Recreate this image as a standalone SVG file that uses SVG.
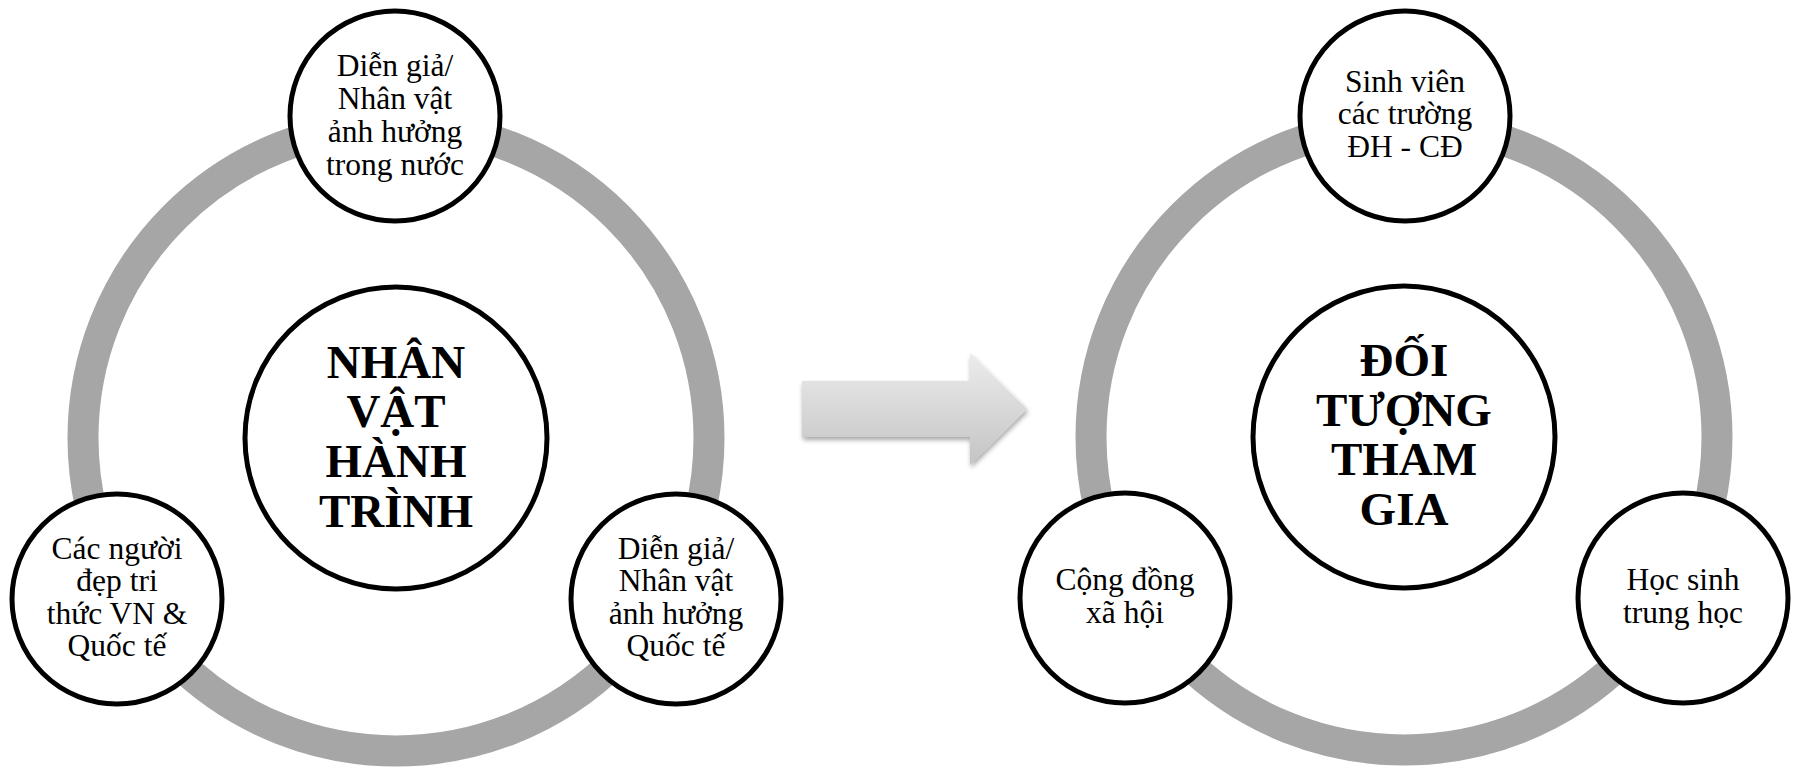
<svg xmlns="http://www.w3.org/2000/svg" width="1796" height="768" viewBox="0 0 1796 768">
<defs>
<style>
.ring{fill:none;stroke:#a6a6a6;stroke-width:31}
.big{fill:#fff;stroke:#000;stroke-width:5}
.small{fill:#fff;stroke:#000;stroke-width:5}
.t{font-family:"Liberation Serif","Times New Roman",serif;font-size:31.5px;fill:#000;text-anchor:middle}
.b{font-family:"Liberation Serif","Times New Roman",serif;font-size:47px;font-weight:bold;fill:#000;text-anchor:middle}
</style>
<linearGradient id="ag" x1="0" y1="0" x2="0" y2="1">
<stop offset="0" stop-color="#ececec"/>
<stop offset="1" stop-color="#c4c4c4"/>
</linearGradient>
<filter id="sh" x="-10%" y="-20%" width="130%" height="150%">
<feGaussianBlur in="SourceAlpha" stdDeviation="2.5"/>
<feOffset dx="1" dy="3" result="o"/>
<feComponentTransfer><feFuncA type="linear" slope="0.35"/></feComponentTransfer>
<feMerge><feMergeNode/><feMergeNode in="SourceGraphic"/></feMerge>
</filter>
</defs>
<rect width="1796" height="768" fill="#fff"/>

<g id="left-ring"><circle class="ring" cx="396" cy="438" r="313"/></g>
<g id="right-ring"><circle class="ring" cx="1404" cy="437" r="313"/></g>

<g id="connectors">
<path d="M802 381 H970 V353 L1027 409 L970 465 V437 H802 Z" fill="url(#ag)" filter="url(#sh)"/>
</g>

<g id="node-nhan-vat">
<circle class="big" cx="396" cy="438" r="151"/>
<text class="b" x="396" y="378">NHÂN</text>
<text class="b" x="396" y="427">VẬT</text>
<text class="b" x="396" y="477">HÀNH</text>
<text class="b" x="396" y="527">TRÌNH</text>
</g>

<g id="node-trong-nuoc">
<circle class="small" cx="395" cy="116" r="105"/>
<text class="t" x="395" y="76">Diễn giả/</text>
<text class="t" x="395" y="109">Nhân vật</text>
<text class="t" x="395" y="142">ảnh hưởng</text>
<text class="t" x="395" y="175">trong nước</text>
</g>

<g id="node-nguoi-dep">
<circle class="small" cx="117" cy="599" r="105"/>
<text class="t" x="117" y="559">Các người</text>
<text class="t" x="117" y="591">đẹp tri</text>
<text class="t" x="117" y="624">thức VN &amp;</text>
<text class="t" x="117" y="656">Quốc tế</text>
</g>

<g id="node-quoc-te">
<circle class="small" cx="676" cy="599" r="105"/>
<text class="t" x="676" y="559">Diễn giả/</text>
<text class="t" x="676" y="591">Nhân vật</text>
<text class="t" x="676" y="624">ảnh hưởng</text>
<text class="t" x="676" y="656">Quốc tế</text>
</g>

<g id="node-doi-tuong">
<circle class="big" cx="1404" cy="437" r="151"/>
<text class="b" x="1404" y="376">ĐỐI</text>
<text class="b" x="1404" y="426">TƯỢNG</text>
<text class="b" x="1404" y="475">THAM</text>
<text class="b" x="1404" y="525">GIA</text>
</g>

<g id="node-sinh-vien">
<circle class="small" cx="1405" cy="116" r="105"/>
<text class="t" x="1405" y="92">Sinh viên</text>
<text class="t" x="1405" y="124">các trường</text>
<text class="t" x="1405" y="157">ĐH - CĐ</text>
</g>

<g id="node-cong-dong">
<circle class="small" cx="1125" cy="598" r="105"/>
<text class="t" x="1125" y="590">Cộng đồng</text>
<text class="t" x="1125" y="623">xã hội</text>
</g>

<g id="node-hoc-sinh">
<circle class="small" cx="1683" cy="598" r="105"/>
<text class="t" x="1683" y="590">Học sinh</text>
<text class="t" x="1683" y="623">trung học</text>
</g>
</svg>
